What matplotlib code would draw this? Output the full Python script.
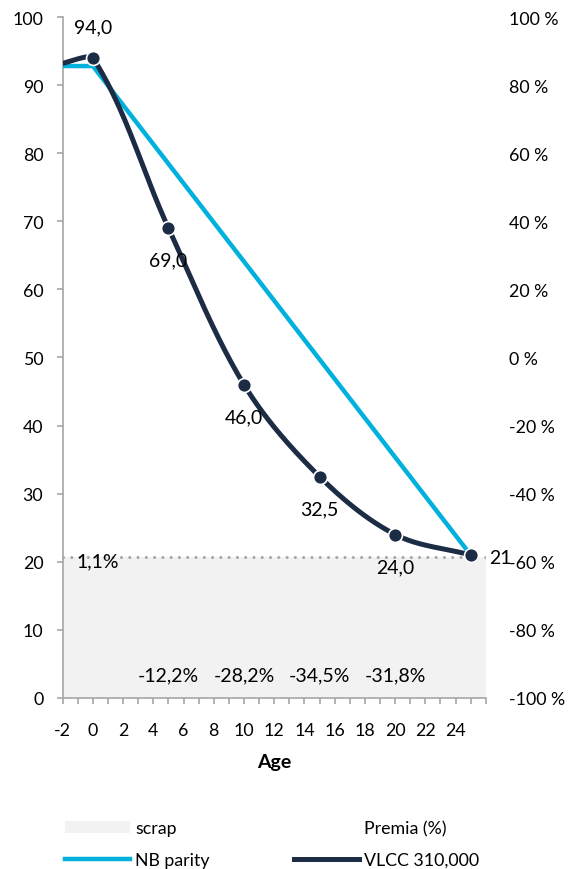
import numpy as np
import matplotlib
matplotlib.use("Agg")
import matplotlib.pyplot as plt
from matplotlib.lines import Line2D
from matplotlib.patches import Patch
from matplotlib.ticker import MultipleLocator, FuncFormatter

plt.rcParams['font.family'] = ['Lato', 'DejaVu Sans']
plt.rcParams['font.size'] = 12.8
plt.rcParams['axes.unicode_minus'] = False

# VLCC 310,000 price curve by age
ages = [-2, 0, 5, 10, 15, 20, 25]
vlcc = [93.2, 94.0, 69.0, 46.0, 32.5, 24.0, 21.0]

# straight-line newbuild parity
nb_ages = [-2, 0, 25]
nb_parity = [92.8, 92.8, 21.0]

# scrap value floor
scrap = 20.7

# premia vs. NB parity (%)
premia_ages = [0, 5, 10, 15, 20]
premia = [1.1, -12.2, -28.2, -34.5, -31.8]

NAVY = '#1d2c45'
BLUE = '#00b1dd'
GREY = '#a6a6a6'
LABEL_SIZE = 14


def comma(v, fmt='{:.1f}'):
    return fmt.format(v).replace('.', ',')


def smooth(x, y, sx=15.1, sy=6.81, n=40):
    """Bezier smoothing done in screen-like units; tangent handles are a
    fraction of each segment so short segments do not overshoot."""
    p = np.column_stack([np.asarray(x) * sx, np.asarray(y) * sy]).astype(float)
    m = len(p)
    tang = np.zeros_like(p)
    for i in range(m):
        d = p[min(i + 1, m - 1)] - p[max(i - 1, 0)]
        tang[i] = d / np.linalg.norm(d)
    t = np.linspace(0, 1, n)[:, None]
    out = []
    for i in range(m - 1):
        p1, p2 = p[i], p[i + 1]
        L = np.linalg.norm(p2 - p1)
        L = L / 3 if L > 60 else L / 6
        c1 = p1 + tang[i] * L
        c2 = p2 - tang[i + 1] * L
        seg = ((1 - t) ** 3) * p1 + 3 * ((1 - t) ** 2) * t * c1 \
            + 3 * (1 - t) * t ** 2 * c2 + t ** 3 * p2
        out.append(seg)
    out = np.vstack(out)
    return out[:, 0] / sx, out[:, 1] / sy


fig = plt.figure(figsize=(5.71, 8.70), dpi=100)
ax = fig.add_axes([0.1098, 0.1966, 0.741, 0.7827])

ax.set_xlim(-2, 26)
ax.set_ylim(0, 100)

# scrap area and its dotted top edge
ax.fill_between([-2, 26], 0, scrap, color='#f2f2f2', lw=0, zorder=1)
ax.plot([-2, 26], [scrap, scrap], color=GREY, lw=2.2, ls=(0, (0.01, 2.7)),
        dash_capstyle='round', zorder=2)

ax.plot(nb_ages, nb_parity, color=BLUE, lw=3.2, solid_capstyle='butt', zorder=3)

sx, sy = smooth(ages, vlcc)
ax.plot(sx, sy, color=NAVY, lw=3.6, solid_capstyle='butt', zorder=4)
ax.plot(ages[1:], vlcc[1:], ls='none', marker='o', ms=10, mfc=NAVY,
        mec='white', mew=1.2, zorder=5)

# value labels
for a, v in zip(ages[1:-1], vlcc[1:-1]):
    dy = 22 if a == 0 else -23
    ax.annotate(comma(v), (a, v), xytext=(0, dy), textcoords='offset points',
                ha='center', va='center', fontsize=LABEL_SIZE, zorder=6)
ax.annotate(f'{vlcc[-1]:.0f}', (ages[-1], vlcc[-1]), xytext=(13, -2),
            textcoords='offset points', ha='left', va='center',
            fontsize=LABEL_SIZE, zorder=6)

# premia labels
for a, p in zip(premia_ages, premia):
    y = scrap - 0.6 if a == 0 else 3.4
    ax.text(a + (0.3 if a == 0 else 0), y, comma(p) + '%', ha='center',
            va='center', fontsize=LABEL_SIZE, zorder=6)

for s in ['top', 'right']:
    ax.spines[s].set_visible(False)
ax.spines['left'].set_color(GREY)
ax.spines['bottom'].set_color(GREY)
ax.spines['left'].set_linewidth(1.2)
ax.spines['bottom'].set_linewidth(1.2)

ax.xaxis.set_minor_locator(MultipleLocator(1))
ax.set_xticks(range(-2, 25, 2))
ax.yaxis.set_major_locator(MultipleLocator(10))
ax.tick_params(axis='x', which='both', length=4, width=1.2, color=GREY, pad=13)
ax.tick_params(axis='y', length=4, width=1.2, color=GREY, pad=10)
ax.set_xlabel('Age', fontweight='bold', fontsize=14, labelpad=11)

ax2 = ax.twinx()
ax2.set_ylim(-100, 100)
ax2.yaxis.set_major_locator(MultipleLocator(20))
ax2.yaxis.set_major_formatter(FuncFormatter(lambda v, _: f'{v:.0f} %'))
ax2.tick_params(axis='y', length=0, pad=17)
for s in ax2.spines.values():
    s.set_visible(False)

handles = [
    Patch(facecolor='#f2f2f2', edgecolor='none', label='scrap'),
    Line2D([], [], color=BLUE, lw=3.2, label='NB parity'),
    Line2D([], [], color='none', label='Premia (%)'),
    Line2D([], [], color=NAVY, lw=3.6, label='VLCC 310,000'),
]
fig.legend(handles=handles, ncol=2, loc='lower left', bbox_to_anchor=(0.086, -0.017),
           frameon=False, handlelength=3.65, handleheight=0.6, handletextpad=0.28,
           columnspacing=4.75, labelspacing=0.88)

fig.savefig('out.png', dpi=100)
